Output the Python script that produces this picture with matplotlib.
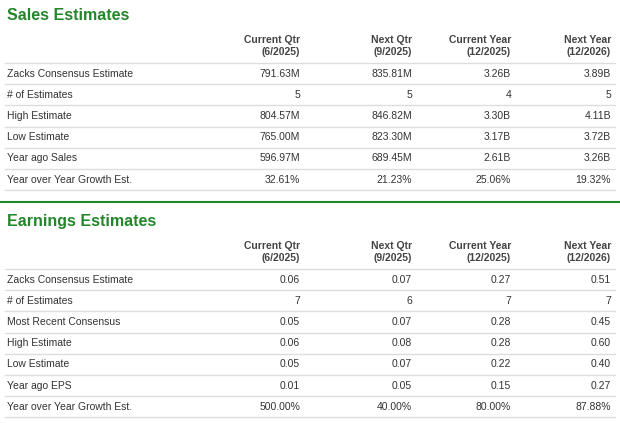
import matplotlib
matplotlib.use("Agg")
import matplotlib.pyplot as plt

plt.rcParams["font.family"] = "Liberation Sans"

columns = ["Current Qtr\n(6/2025)", "Next Qtr\n(9/2025)", "Current Year\n(12/2025)", "Next Year\n(12/2026)"]

sales_rows = ["Zacks Consensus Estimate", "# of Estimates", "High Estimate", "Low Estimate",
              "Year ago Sales", "Year over Year Growth Est."]
sales_vals = [
    ["791.63M", "835.81M", "3.26B", "3.89B"],
    ["5", "5", "4", "5"],
    ["804.57M", "846.82M", "3.30B", "4.11B"],
    ["765.00M", "823.30M", "3.17B", "3.72B"],
    ["596.97M", "689.45M", "2.61B", "3.26B"],
    ["32.61%", "21.23%", "25.06%", "19.32%"],
]

eps_rows = ["Zacks Consensus Estimate", "# of Estimates", "Most Recent Consensus", "High Estimate",
            "Low Estimate", "Year ago EPS", "Year over Year Growth Est."]
eps_vals = [
    ["0.06", "0.07", "0.27", "0.51"],
    ["7", "6", "7", "7"],
    ["0.05", "0.07", "0.28", "0.45"],
    ["0.06", "0.08", "0.28", "0.60"],
    ["0.05", "0.07", "0.22", "0.40"],
    ["0.01", "0.05", "0.15", "0.27"],
    ["500.00%", "40.00%", "80.00%", "87.88%"],
]

GREEN = "#23862a"
TEXT = "#333333"
LINE = "#dddddd"
col_x = [300, 412, 511, 611]
row_h = 21.2

fig = plt.figure(figsize=(6.2, 4.28), dpi=100)
ax = fig.add_axes([0, 0, 1, 1])
ax.set_xlim(0, 620)
ax.set_ylim(428, 0)
ax.axis("off")


def section(title, y0, rows, vals):
    ax.text(7, y0, title, color=GREEN, fontsize=11.5, fontweight="bold", va="center", ha="left")
    for cx, c in zip(col_x, columns):
        ax.text(cx, y0 + 31, c, color="#444444", fontsize=7.5, fontweight="bold",
                ha="right", va="center", linespacing=1.3)
    top = y0 + 48
    ax.plot([5, 615], [top, top], color=LINE, lw=1)
    for i, (name, v) in enumerate(zip(rows, vals)):
        yc = top + row_h * (i + 0.5)
        ax.text(7, yc, name, color=TEXT, fontsize=7.5, va="center", ha="left")
        for cx, s in zip(col_x, v):
            ax.text(cx, yc, s, color=TEXT, fontsize=7.5, va="center", ha="right")
        ax.plot([5, 615], [top + row_h * (i + 1)] * 2, color=LINE, lw=1)


section("Sales Estimates", 15, sales_rows, sales_vals)
ax.plot([0, 620], [202, 202], color=GREEN, lw=1.5)
section("Earnings Estimates", 221, eps_rows, eps_vals)

fig.savefig("out.png", dpi=100, facecolor="white")
